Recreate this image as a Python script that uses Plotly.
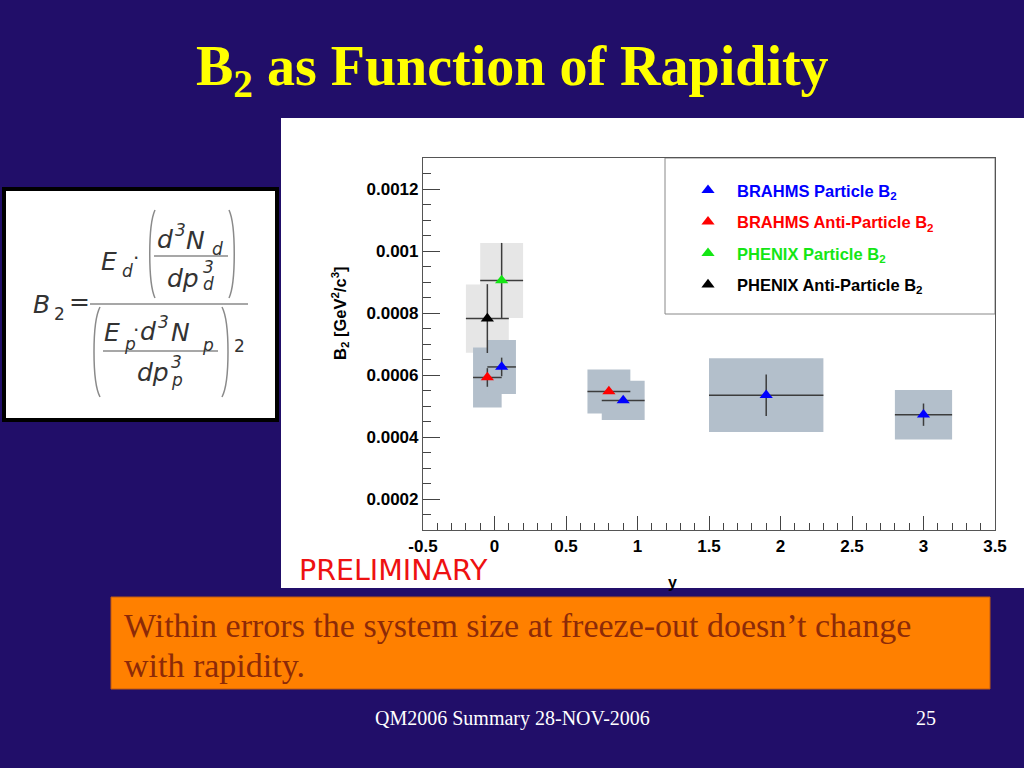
import plotly.graph_objects as go

# ---------------- data ----------------
brahms_y = [0.05, 0.9, 1.9, 3.0]
brahms_b2 = [0.000626, 0.000518, 0.000535, 0.000472]
brahms_stat = [0.00003, 0.000008, 0.000067, 0.000036]
brahms_xerr = [0.1, 0.15, 0.4, 0.2]
brahms_sys = [0.000087, 0.0000635, 0.000119, 0.00008]

brahms_anti_y = [-0.05, 0.8]
brahms_anti_b2 = [0.000592, 0.000547]
brahms_anti_stat = [0.00003, 0.000008]
brahms_anti_xerr = [0.1, 0.15]
brahms_anti_sys = [0.0000968, 0.000071]

phenix_y = [0.05]
phenix_b2 = [0.000905]
phenix_stat = [0.000121]
phenix_xerr = [0.15]
phenix_sys = [0.000121]

phenix_anti_y = [-0.05]
phenix_anti_b2 = [0.000782]
phenix_anti_stat = [0.000111]
phenix_anti_xerr = [0.15]
phenix_anti_sys = [0.00011]

x_tickvals = [-0.5, 0, 0.5, 1, 1.5, 2, 2.5, 3, 3.5]
x_ticktext = ["-0.5", "0", "0.5", "1", "1.5", "2", "2.5", "3", "3.5"]
y_tickvals = [0.0002, 0.0004, 0.0006, 0.0008, 0.001, 0.0012]
y_ticktext = ["0.0002", "0.0004", "0.0006", "0.0008", "0.001", "0.0012"]

# ---------------- layout helpers ----------------
W, H = 1024, 768
PL, PR, PT, PB = 423, 995, 158, 530
NAVY = "#210e69"


def px(x):
    return (x - PL) / (PR - PL)


def py(y):
    return (PB - y) / (PB - PT)


fig = go.Figure()

BOX_BRAHMS = "#b3bfcb"
BOX_PHENIX = "#e6e6e6"
ERR = "#3c3c3c"

series = [
    ("PHENIX Particle B", phenix_y, phenix_b2, phenix_stat, phenix_xerr, phenix_sys, "#14e614", BOX_PHENIX, 3),
    ("PHENIX Anti-Particle B", phenix_anti_y, phenix_anti_b2, phenix_anti_stat, phenix_anti_xerr, phenix_anti_sys, "#000000", BOX_PHENIX, 4),
    ("BRAHMS Anti-Particle B", brahms_anti_y, brahms_anti_b2, brahms_anti_stat, brahms_anti_xerr, brahms_anti_sys, "#ff0000", BOX_BRAHMS, 2),
    ("BRAHMS Particle B", brahms_y, brahms_b2, brahms_stat, brahms_xerr, brahms_sys, "#0000ff", BOX_BRAHMS, 1),
]

shapes = []
# page white region for the chart
shapes.append(dict(type="rect", xref="paper", yref="paper", x0=px(281), x1=px(1030),
                   y0=py(588), y1=py(118), fillcolor="white", line=dict(width=0), layer="below"))
# legend box
shapes.append(dict(type="rect", xref="paper", yref="paper", x0=px(665), x1=px(995),
                   y0=py(314), y1=py(158), fillcolor="white", line=dict(color="#888888", width=1), layer="below"))

# systematic boxes (from data)
for name, xs, ys, st, xe, sy, col, boxcol, rank in series:
    for xv, yv, xh, sh in zip(xs, ys, xe, sy):
        shapes.append(dict(type="rect", xref="x", yref="y", x0=xv - xh, x1=xv + xh,
                           y0=yv - sh, y1=yv + sh, fillcolor=boxcol, line=dict(width=0), layer="below"))

for name, xs, ys, st, xe, sy, col, boxcol, rank in series:
    fig.add_trace(go.Scatter(
        x=xs, y=ys, mode="markers",
        name='<span style="color:%s">%s<sub>2</sub></span>' % (col, name),
        legendgroup=name, legendrank=rank,
        marker=dict(symbol="triangle-up", size=11.5, color=col, line=dict(width=0)),
        error_y=dict(type="data", array=st, color=ERR, thickness=1.5, width=0),
        error_x=dict(type="data", array=xe, color=ERR, thickness=1.5, width=0),
        cliponaxis=False,
    ))

# ---------------- formula box ----------------
shapes.append(dict(type="rect", xref="paper", yref="paper", x0=px(4), x1=px(277),
                   y0=py(420), y1=py(189), fillcolor="white", line=dict(color="black", width=4), layer="below"))


def hline(x0, x1, y, color="#8a8a8a", w=1.5):
    shapes.append(dict(type="line", xref="paper", yref="paper", x0=px(x0), x1=px(x1),
                       y0=py(y), y1=py(y), line=dict(color=color, width=w)))


def paren(xa, xb, y0, y1, left=True):
    # thin tall bracket drawn as a cubic curve
    if left:
        xe, xm = xb, xa
    else:
        xe, xm = xa, xb
    d = 0.17 * (y1 - y0)
    path = "M %f,%f C %f,%f %f,%f %f,%f" % (
        px(xe), py(y0), px(xm), py(y0 + d), px(xm), py(y1 - d), px(xe), py(y1))
    shapes.append(dict(type="path", xref="paper", yref="paper", path=path,
                       line=dict(color="#8a8a8a", width=1.5)))


hline(90, 248, 304)
hline(154, 228, 256)
hline(103, 218, 351)
paren(148, 155, 210, 298, True)
paren(229, 236, 210, 298, False)
paren(92, 100, 307, 397, True)
paren(222, 230, 307, 397, False)

annotations = []


def txt(x, y, s, size, color="black", family="DejaVu Sans", xanchor="left", style="normal",
        weight="normal", angle=0):
    annotations.append(dict(xref="paper", yref="paper", x=px(x), y=py(y), text=s, showarrow=False,
                            xanchor=xanchor, yanchor="middle", textangle=angle,
                            font=dict(size=size, color=color, family=family, style=style, weight=weight)))


FC = "#333333"
BIG, SM = 25, 17
txt(31, 304, "B", BIG, FC, style="italic")
txt(52, 314, "2", SM, FC)
txt(67, 301, "=", BIG, FC)
# numerator
txt(99, 261, "E", BIG, FC, style="italic")
txt(120, 271, "d", SM, FC, style="italic")
txt(131, 258, "·", 20, FC)
txt(155, 239, "d", BIG, FC, style="italic")
txt(173, 230, "3", SM, FC, style="italic")
txt(184, 240, "N", BIG, FC, style="italic")
txt(210, 249, "d", SM, FC, style="italic")
txt(165, 278, "dp", BIG, FC, style="italic")
txt(201, 267, "3", SM, FC, style="italic")
txt(201, 284, "d", SM, FC, style="italic")
# denominator
txt(102, 332, "E", BIG, FC, style="italic")
txt(122, 344, "p", SM, FC, style="italic")
txt(131, 330, "·", 20, FC)
txt(138, 331, "d", BIG, FC, style="italic")
txt(156, 322, "3", SM, FC, style="italic")
txt(169, 332, "N", BIG, FC, style="italic")
txt(200, 345, "p", SM, FC, style="italic")
txt(135, 372, "dp", BIG, FC, style="italic")
txt(169, 362, "3", SM, FC, style="italic")
txt(169, 380, "p", SM, FC, style="italic")
txt(232, 346, "2", SM, FC)

# ---------------- slide texts ----------------
txt(512, 70, "B<sub>2</sub> as Function of Rapidity", 56, "#ffff00", family="Liberation Serif",
    xanchor="center", weight="bold")
txt(340, 313, "B<sub>2</sub> [GeV<sup>2</sup>/c<sup>3</sup>]", 16.5, "black", family="Liberation Sans",
    xanchor="center", weight="bold", angle=-90)
txt(672, 582, "y", 16, "black", family="Liberation Sans", xanchor="center", weight="bold")
txt(297, 570, "PRELIMINARY", 28.5, "#ee1111", family="DejaVu Sans")

shapes.append(dict(type="rect", xref="paper", yref="paper", x0=px(111), x1=px(990),
                   y0=py(689), y1=py(597), fillcolor="#ff8000", line=dict(color="#c05a10", width=1),
                   layer="below"))
txt(122, 625, "Within errors the system size at freeze-out doesn’t change", 34, "#8c2a08",
    family="Liberation Serif")
txt(122, 665, "with rapidity.", 34, "#8c2a08", family="Liberation Serif")
txt(512, 718, "QM2006 Summary 28-NOV-2006", 20, "white", family="Liberation Serif", xanchor="center")
txt(926, 718, "25", 20, "white", family="Liberation Serif", xanchor="center")

axis_common = dict(showline=True, mirror=True, linecolor="#555555", linewidth=1.2,
                   showgrid=False, zeroline=False, ticks="inside", tickcolor="#444444", tickwidth=1,
                   tickfont=dict(family="Liberation Sans", size=17, color="black", weight="bold"))

fig.update_layout(
    width=W, height=H, autosize=False,
    margin=dict(l=PL, r=W - PR, t=PT, b=H - PB, pad=0),
    paper_bgcolor=NAVY, plot_bgcolor="white",
    showlegend=True,
    legend=dict(x=px(679), y=py(173), xanchor="left", yanchor="top", bgcolor="rgba(0,0,0,0)",
                borderwidth=0, tracegroupgap=7, itemwidth=48,
                font=dict(family="Liberation Sans", size=16.5, weight="bold")),
    xaxis=dict(range=[-0.5, 3.5], tickvals=x_tickvals, ticktext=x_ticktext, ticklen=14,
               minor=dict(ticks="inside", ticklen=7, dtick=0.1, tick0=0, tickcolor="#444444", showgrid=False),
               **axis_common),
    yaxis=dict(range=[0.0001, 0.0013], tickvals=y_tickvals, ticktext=y_ticktext, ticklen=17,
               minor=dict(ticks="inside", ticklen=8, dtick=0.00005, tick0=0, tickcolor="#444444", showgrid=False),
               **axis_common),
    shapes=shapes, annotations=annotations,
    hovermode=False,
)

fig.write_html("out.html", config={"displayModeBar": False},
               post_script="document.body.style.margin='0';document.body.style.overflow='hidden';")
